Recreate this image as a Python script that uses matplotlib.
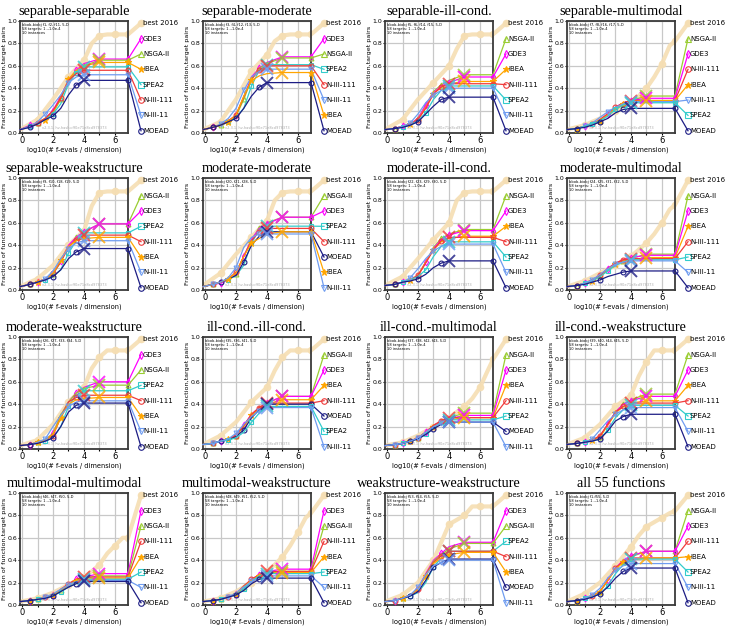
import matplotlib
matplotlib.use('Agg')
import matplotlib.pyplot as plt

# x grid (log10 evals/dim) for the algorithm curves and for best 2016
XG = [-0.13, 0.5, 1.0, 1.5, 2.0, 2.5, 3.0, 3.5, 4.0, 5.0]
XB = [-0.13, 1.0, 2.0, 3.0, 4.0, 4.5, 5.0, 5.5, 6.0, 6.5, 6.84]

TITLES = ['separable-separable', 'separable-moderate', 'separable-ill-cond.', 'separable-multimodal',
          'separable-weakstructure', 'moderate-moderate', 'moderate-ill-cond.', 'moderate-multimodal',
          'moderate-weakstructure', 'ill-cond.-ill-cond.', 'ill-cond.-multimodal', 'ill-cond.-weakstructure',
          'multimodal-multimodal', 'multimodal-weakstructure', 'weakstructure-weakstructure', 'all 55 functions']

FUNCS = ['f1, f2, f11', 'f3, f4, f12, f13', 'f5, f6, f14, f15', 'f7, f8, f16, f17',
         'f9, f10, f18, f19', 'f20, f21, f28', 'f22, f23, f29, f30', 'f24, f25, f31, f32',
         'f26, f27, f33, f34', 'f35, f36, f41', 'f37, f38, f42, f43', 'f39, f40, f44, f45',
         'f46, f47, f50', 'f48, f49, f51, f52', 'f53, f54, f55', 'f1-f55']

# best 2016 per panel (on XB)
BEST = [
    [.03, .12, .30, .50, .65, .80, .87, .88, .88, .88, .88],
    [.03, .10, .30, .55, .70, .82, .87, .88, .88, .88, .88],
    [.03, .12, .30, .45, .60, .75, .87, .88, .88, .88, .88],
    [.03, .07, .13, .20, .28, .33, .40, .50, .62, .78, .82],
    [.03, .10, .22, .40, .53, .75, .87, .88, .88, .88, .88],
    [.04, .15, .32, .47, .62, .80, .87, .88, .88, .88, .88],
    [.04, .12, .28, .45, .60, .80, .87, .88, .88, .88, .88],
    [.03, .08, .15, .22, .30, .36, .42, .50, .60, .72, .76],
    [.03, .08, .22, .42, .55, .72, .82, .88, .88, .88, .88],
    [.04, .12, .24, .42, .55, .70, .82, .88, .88, .88, .88],
    [.03, .06, .12, .20, .28, .33, .38, .45, .55, .70, .80],
    [.04, .10, .22, .38, .48, .65, .78, .88, .88, .88, .88],
    [.03, .06, .11, .18, .25, .30, .36, .46, .53, .60, .60],
    [.03, .06, .12, .20, .30, .36, .43, .53, .65, .78, .82],
    [.03, .09, .20, .40, .72, .76, .80, .88, .88, .88, .88],
    [.03, .10, .20, .35, .52, .62, .70, .74, .78, .82, .84],
]

# algorithm curves per panel (on XG), in the panel's legend order
SEP_SEP = {
    'GDE3':      [.03, .07, .09, .13, .20, .33, .47, .56, .62, .66],
    'NSGA-II':   [.03, .06, .09, .13, .18, .30, .46, .55, .60, .65],
    'IBEA':      [.03, .06, .08, .12, .18, .32, .48, .56, .60, .63],
    'SPEA2':     [.03, .06, .08, .12, .17, .26, .44, .54, .59, .59],
    'N-III-111': [.03, .06, .09, .13, .20, .31, .47, .53, .56, .56],
    'N-III-11':  [.03, .06, .10, .17, .25, .34, .45, .50, .52, .52],
    'MOEAD':     [.03, .05, .08, .12, .15, .22, .34, .43, .47, .47],
}
SEP_MOD = {
    'GDE3':      [.03, .05, .07, .10, .16, .32, .50, .58, .63, .68],
    'NSGA-II':   [.03, .05, .07, .10, .15, .30, .48, .58, .62, .67],
    'SPEA2':     [.03, .05, .07, .10, .14, .22, .42, .56, .61, .61],
    'N-III-111': [.03, .05, .07, .11, .16, .32, .48, .56, .60, .60],
    'N-III-11':  [.03, .05, .08, .13, .22, .38, .50, .55, .57, .57],
    'IBEA':      [.03, .05, .07, .10, .16, .33, .47, .51, .53, .54],
    'MOEAD':     [.03, .05, .07, .10, .13, .22, .33, .41, .45, .45],
}
SEP_ILL = {
    'NSGA-II':   [.03, .04, .06, .08, .13, .25, .37, .43, .47, .52],
    'GDE3':      [.03, .04, .06, .08, .13, .25, .36, .42, .45, .50],
    'IBEA':      [.03, .04, .06, .08, .12, .23, .35, .41, .44, .46],
    'N-III-111': [.03, .04, .06, .08, .12, .22, .35, .41, .44, .44],
    'SPEA2':     [.03, .04, .05, .07, .11, .18, .30, .38, .42, .42],
    'N-III-11':  [.03, .04, .06, .09, .17, .27, .34, .38, .40, .40],
    'MOEAD':     [.03, .04, .05, .07, .10, .17, .24, .30, .32, .32],
}
SEP_MULTI = {
    'NSGA-II':   [.03, .04, .06, .08, .11, .16, .22, .26, .29, .33],
    'GDE3':      [.03, .04, .06, .08, .12, .17, .23, .27, .29, .31],
    'N-III-111': [.03, .04, .06, .08, .12, .17, .23, .27, .29, .29],
    'IBEA':      [.03, .04, .06, .08, .11, .16, .22, .26, .28, .29],
    'N-III-11':  [.03, .04, .06, .09, .14, .19, .23, .26, .28, .28],
    'SPEA2':     [.03, .04, .06, .08, .11, .15, .21, .25, .27, .27],
    'MOEAD':     [.03, .04, .05, .07, .10, .13, .18, .21, .22, .22],
}
SEP_WEAK = {
    'NSGA-II':   [.03, .05, .07, .09, .14, .25, .39, .47, .52, .59],
    'GDE3':      [.03, .05, .07, .10, .15, .26, .40, .47, .52, .59],
    'SPEA2':     [.03, .05, .07, .09, .12, .18, .33, .44, .51, .51],
    'N-III-111': [.03, .05, .07, .10, .15, .25, .38, .45, .49, .49],
    'IBEA':      [.03, .05, .07, .10, .15, .27, .39, .44, .46, .47],
    'N-III-11':  [.03, .05, .07, .10, .17, .28, .37, .42, .44, .44],
    'MOEAD':     [.03, .05, .07, .09, .12, .18, .28, .34, .37, .37],
}
MOD_MOD = {
    'NSGA-II':   [.03, .05, .07, .09, .14, .30, .45, .55, .60, .65],
    'GDE3':      [.03, .05, .06, .09, .14, .30, .45, .55, .59, .65],
    'SPEA2':     [.03, .05, .07, .09, .13, .22, .42, .54, .57, .57],
    'N-III-111': [.03, .05, .07, .10, .16, .30, .44, .52, .55, .55],
    'MOEAD':     [.03, .05, .07, .10, .13, .25, .40, .48, .52, .52],
    'IBEA':      [.03, .05, .07, .10, .15, .30, .42, .46, .50, .52],
    'N-III-11':  [.03, .05, .07, .11, .20, .38, .47, .50, .50, .50],
}
MOD_ILL = {
    'NSGA-II':   [.04, .05, .07, .09, .13, .25, .38, .46, .50, .54],
    'GDE3':      [.04, .05, .07, .09, .13, .25, .37, .45, .49, .53],
    'IBEA':      [.04, .05, .07, .09, .13, .25, .36, .43, .46, .48],
    'N-III-111': [.04, .05, .07, .09, .13, .24, .36, .44, .47, .47],
    'SPEA2':     [.04, .05, .07, .09, .12, .18, .30, .39, .43, .43],
    'N-III-11':  [.04, .05, .07, .11, .19, .28, .35, .39, .41, .41],
    'MOEAD':     [.04, .05, .07, .08, .10, .14, .20, .24, .26, .26],
}
MOD_MULTI = {
    'NSGA-II':   [.03, .04, .06, .09, .13, .19, .23, .26, .28, .32],
    'GDE3':      [.03, .04, .06, .09, .13, .19, .24, .27, .29, .31],
    'IBEA':      [.03, .04, .06, .08, .12, .18, .23, .26, .27, .29],
    'N-III-111': [.03, .04, .06, .09, .13, .19, .24, .27, .28, .28],
    'SPEA2':     [.03, .04, .06, .08, .12, .17, .22, .25, .27, .27],
    'N-III-11':  [.03, .04, .06, .09, .14, .19, .23, .25, .26, .26],
    'MOEAD':     [.03, .04, .05, .07, .09, .12, .14, .16, .17, .17],
}
MOD_WEAK = {
    'GDE3':      [.03, .04, .06, .08, .14, .30, .42, .50, .55, .60],
    'NSGA-II':   [.03, .04, .06, .08, .14, .30, .42, .50, .54, .57],
    'SPEA2':     [.03, .04, .05, .07, .10, .20, .38, .48, .52, .52],
    'N-III-111': [.03, .04, .06, .08, .12, .28, .42, .46, .48, .48],
    'IBEA':      [.03, .04, .06, .08, .13, .28, .40, .44, .45, .46],
    'N-III-11':  [.03, .04, .06, .09, .20, .30, .38, .42, .43, .43],
    'MOEAD':     [.03, .04, .05, .07, .10, .20, .33, .39, .41, .41],
}
ILL_ILL = {
    'NSGA-II':   [.04, .05, .07, .09, .12, .20, .30, .37, .41, .47],
    'GDE3':      [.04, .05, .07, .09, .12, .21, .31, .37, .41, .47],
    'IBEA':      [.04, .05, .07, .09, .12, .20, .30, .37, .40, .44],
    'N-III-111': [.04, .05, .07, .09, .12, .21, .31, .37, .41, .41],
    'MOEAD':     [.04, .05, .07, .08, .11, .17, .28, .35, .40, .40],
    'SPEA2':     [.04, .05, .07, .08, .10, .15, .24, .32, .38, .38],
    'N-III-11':  [.04, .05, .07, .09, .14, .22, .29, .34, .37, .37],
}
ILL_MULTI = {
    'NSGA-II':   [.03, .04, .05, .07, .10, .15, .21, .25, .28, .32],
    'GDE3':      [.03, .04, .05, .07, .10, .15, .21, .25, .27, .30],
    'IBEA':      [.03, .04, .05, .07, .10, .15, .20, .24, .26, .28],
    'N-III-111': [.03, .04, .05, .07, .10, .15, .21, .25, .28, .28],
    'SPEA2':     [.03, .04, .05, .07, .09, .13, .19, .24, .26, .26],
    'MOEAD':     [.03, .04, .05, .07, .09, .13, .18, .22, .24, .24],
    'N-III-11':  [.03, .04, .05, .07, .10, .15, .20, .23, .24, .24],
}
ILL_WEAK = {
    'NSGA-II':   [.04, .05, .06, .08, .11, .22, .33, .40, .44, .49],
    'GDE3':      [.04, .05, .06, .08, .11, .22, .33, .40, .43, .47],
    'IBEA':      [.04, .05, .06, .08, .11, .21, .32, .38, .41, .43],
    'N-III-111': [.04, .05, .06, .08, .12, .22, .33, .38, .41, .41],
    'SPEA2':     [.04, .05, .06, .07, .09, .17, .28, .35, .39, .39],
    'N-III-11':  [.04, .05, .06, .09, .17, .25, .31, .35, .37, .37],
    'MOEAD':     [.04, .05, .06, .07, .09, .16, .25, .29, .31, .31],
}
MM_MM = {
    'GDE3':      [.03, .04, .05, .07, .09, .13, .18, .23, .25, .28],
    'NSGA-II':   [.03, .04, .05, .07, .09, .13, .18, .22, .24, .26],
    'N-III-111': [.03, .04, .05, .07, .09, .14, .19, .23, .25, .25],
    'IBEA':      [.03, .04, .05, .07, .09, .13, .18, .21, .23, .24],
    'SPEA2':     [.03, .04, .05, .06, .08, .12, .16, .20, .23, .23],
    'N-III-11':  [.03, .04, .05, .07, .10, .14, .18, .21, .22, .22],
    'MOEAD':     [.03, .04, .05, .06, .08, .12, .16, .19, .21, .21],
}
MM_WEAK = {
    'GDE3':      [.03, .04, .05, .07, .10, .16, .23, .27, .30, .32],
    'NSGA-II':   [.03, .04, .05, .07, .10, .16, .22, .26, .28, .30],
    'N-III-111': [.03, .04, .05, .07, .10, .17, .23, .27, .30, .30],
    'IBEA':      [.03, .04, .05, .07, .10, .16, .22, .26, .28, .29],
    'SPEA2':     [.03, .04, .05, .07, .09, .14, .21, .26, .28, .28],
    'N-III-11':  [.03, .04, .05, .07, .11, .16, .21, .24, .26, .26],
    'MOEAD':     [.03, .04, .05, .07, .09, .13, .19, .23, .24, .24],
}
WEAK_WEAK = {
    'GDE3':      [.03, .04, .06, .09, .14, .28, .40, .46, .52, .56],
    'NSGA-II':   [.03, .04, .06, .09, .14, .27, .39, .45, .50, .55],
    'SPEA2':     [.03, .04, .06, .08, .11, .20, .34, .42, .48, .48],
    'N-III-111': [.03, .04, .06, .09, .14, .27, .38, .44, .48, .48],
    'IBEA':      [.03, .04, .06, .09, .14, .26, .37, .42, .45, .47],
    'MOEAD':     [.03, .04, .06, .08, .12, .22, .34, .38, .41, .41],
    'N-III-11':  [.03, .04, .06, .09, .16, .27, .35, .38, .40, .40],
}
ALL_FUNCS = {
    'NSGA-II':   [.03, .04, .06, .08, .12, .22, .32, .39, .43, .48],
    'GDE3':      [.03, .04, .06, .08, .12, .22, .33, .40, .44, .48],
    'N-III-111': [.03, .04, .06, .08, .12, .22, .33, .39, .42, .42],
    'IBEA':      [.03, .04, .06, .08, .12, .22, .32, .38, .40, .42],
    'SPEA2':     [.03, .04, .06, .07, .10, .17, .28, .36, .41, .41],
    'N-III-11':  [.03, .04, .06, .09, .15, .24, .31, .35, .37, .37],
    'MOEAD':     [.03, .04, .05, .07, .10, .16, .24, .30, .33, .33],
}

PANELS = [SEP_SEP, SEP_MOD, SEP_ILL, SEP_MULTI, SEP_WEAK, MOD_MOD, MOD_ILL, MOD_MULTI,
          MOD_WEAK, ILL_ILL, ILL_MULTI, ILL_WEAK, MM_MM, MM_WEAK, WEAK_WEAK, ALL_FUNCS]

# color, marker, log10 budget where the big x sits
STYLE = {
    'GDE3':      ('#ff00ff', 'd', 5.0),
    'NSGA-II':   ('#9acd32', '^', 5.0),
    'IBEA':      ('#ffa500', '*', 5.0),
    'SPEA2':     ('#33cccc', 's', 4.0),
    'N-III-111': ('#f03c3c', 'o', 4.0),
    'N-III-11':  ('#6f9cf0', 'v', 4.0),
    'MOEAD':     ('#1c1c84', 'o', 4.0),
}
WHEAT = '#f5deb3'


def main():
    W, H = 732, 628
    XR = 6.84       # right edge of the axes
    XL = 7.68       # x of the label markers
    fig = plt.figure(figsize=(W / 100, H / 100), dpi=100)
    col_left = [20, 203, 385, 567]
    row_top = [21, 178, 337, 493]
    aw, ah = 108, 112
    label_y = [0.98 - i * 0.96 / 7 for i in range(8)]

    for k, data in enumerate(PANELS):
        r, c = divmod(k, 4)
        ax = fig.add_axes([col_left[c] / W, 1 - (row_top[r] + ah) / H, aw / W, ah / H])
        ax.set_xlim(-0.13, XR)
        ax.set_ylim(0, 1.0)
        ax.set_xticks(range(7))
        ax.set_xticklabels(['0', '', '2', '', '4', '', '6'])
        ax.set_yticks([0, 0.2, 0.4, 0.6, 0.8, 1.0])
        ax.set_yticklabels(['0.0', '0.2', '0.4', '0.6', '0.8', '1.0'])
        ax.tick_params(axis='x', labelsize=6, length=1.5, pad=1)
        ax.tick_params(axis='y', labelsize=4.5, length=1.5, pad=0.5)
        ax.grid(True, color='#c8c8c8', lw=0.9)
        ax.set_axisbelow(True)
        for sp in ax.spines.values():
            sp.set_color('#3a3a3a')
            sp.set_linewidth(1.3)
        ax.set_xlabel('log10(# f-evals / dimension)', fontsize=4.8, labelpad=1)
        ax.set_ylabel('Fraction of function,target pairs', fontsize=4.6, labelpad=0.5)
        ax.set_title(TITLES[k], fontsize=10.3, family='Liberation Serif', pad=4)

        ax.text(0.02, 0.985, 'bbob-biobj %s, 5-D\n58 targets: 1..-1.0e-4\n10 instances' % FUNCS[k],
                transform=ax.transAxes, fontsize=2.6, va='top', ha='left', linespacing=1.1)
        ax.text(0.5, 0.025, 'v2.3.1, hv-hash=ff0e71e8cd978373', transform=ax.transAxes,
                fontsize=2.6, color='#aaaaaa', ha='center', va='bottom')

        # best 2016
        best = BEST[k]
        ax.plot(XB, best, color=WHEAT, lw=3.0, marker='o', ms=4.5, markevery=[1, 3, 4, 6, 8, 10],
                mfc=WHEAT, mec=WHEAT, zorder=1, alpha=0.9, solid_capstyle='round')
        ax.plot([XR, XL], [best[-1], label_y[0]], color=WHEAT, lw=3.0, alpha=0.9,
                clip_on=False, zorder=1)
        ax.plot([XL], [label_y[0]], marker='o', ms=4.5, color=WHEAT, alpha=0.9, clip_on=False, zorder=1)
        ax.text(XL + 0.12, label_y[0], 'best 2016', fontsize=5, va='center', ha='left')

        for i, (name, ys) in enumerate(data.items()):
            col, mk, xend = STYLE[name]
            ms = 4.5 if mk == '*' else 3.5
            mfc = col if mk == '*' else 'none'
            xs = XG + [XR]
            yy = ys + [ys[-1]]
            ax.plot(xs, yy, color=col, lw=0.9, marker=mk, ms=ms, mfc=mfc, mec=col, mew=0.8,
                    markevery=list(range(1 + i % 3, 9, 3)) + [len(xs) - 1], zorder=3, clip_on=False)
            iend = XG.index(xend)
            ax.plot([xend], [ys[iend]], marker='x', ms=9, mew=1.4, color=col, alpha=0.8, zorder=4)
            ly = label_y[i + 1]
            ax.plot([XR, XL], [ys[-1], ly], color=col, lw=0.9, clip_on=False, zorder=3)
            ax.plot([XL], [ly], marker=mk, ms=ms + 0.5, mfc=mfc, mec=col, mew=0.8,
                    clip_on=False, zorder=3)
            ax.text(XL + 0.12, ly, name, fontsize=5, va='center', ha='left')

    fig.savefig('out.png', dpi=100)


if __name__ == "__main__":
    main()
